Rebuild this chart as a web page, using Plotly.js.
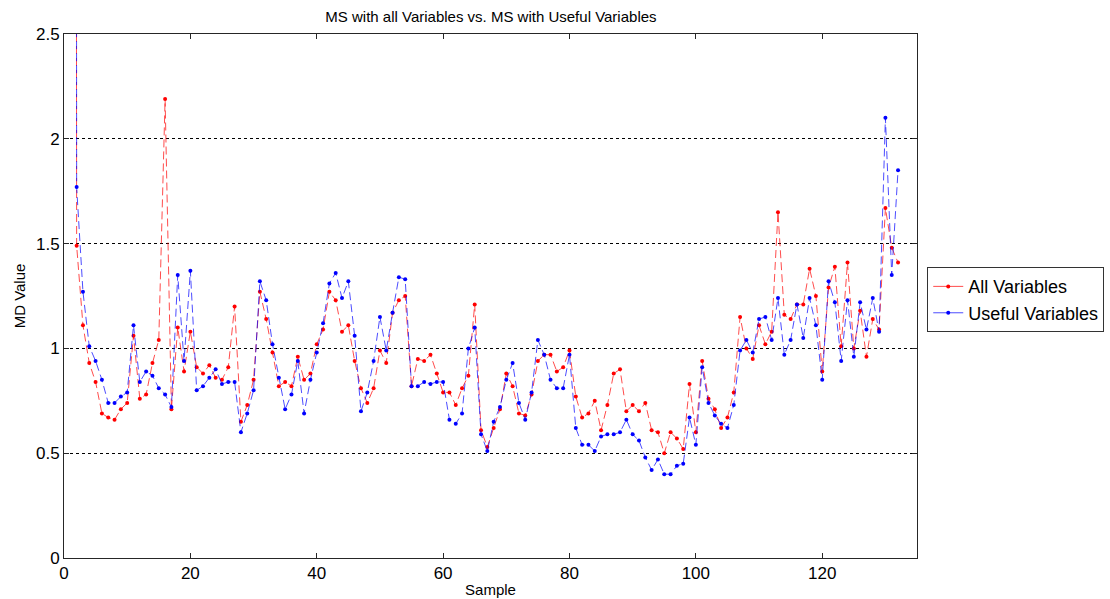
<!DOCTYPE html>
<html>
<head>
<meta charset="utf-8">
<script src="https://cdn.plot.ly/plotly-3.0.1.min.js"></script>
<style>
html,body{margin:0;padding:0;background:#fff;}
#chart{width:1110px;height:599px;}
</style>
</head>
<body>
<div id="chart"></div>
<script>
// Sample numbers 1..132 (sample 1 is off-scale, above 2.5)
const samples = Array.from({length: 132}, (_, i) => i + 1);

const allVariables = [
  40, 1.49, 1.11, 0.93, 0.84, 0.69, 0.67, 0.66, 0.71, 0.74,
  1.06, 0.76, 0.78, 0.93, 1.04, 2.19, 0.71, 1.10, 0.89, 1.08,
  0.91, 0.88, 0.92, 0.86, 0.85, 0.91, 1.20, 0.65, 0.73, 0.85,
  1.27, 1.14, 0.98, 0.82, 0.84, 0.82, 0.96, 0.85, 0.88, 1.02,
  1.09, 1.27, 1.23, 1.08, 1.11, 0.94, 0.81, 0.74, 0.81, 0.99,
  0.93, 1.17, 1.23, 1.25, 0.82, 0.95, 0.94, 0.97, 0.88, 0.79,
  0.79, 0.73, 0.81, 0.87, 1.21, 0.61, 0.53, 0.62, 0.71, 0.88,
  0.82, 0.69, 0.68, 0.78, 0.94, 0.97, 0.97, 0.89, 0.91, 0.99,
  0.77, 0.67, 0.69, 0.75, 0.61, 0.73, 0.88, 0.90, 0.70, 0.73,
  0.70, 0.74, 0.61, 0.60, 0.50, 0.60, 0.57, 0.52, 0.83, 0.60,
  0.94, 0.76, 0.71, 0.62, 0.67, 0.79, 1.15, 1.00, 0.95, 1.11,
  1.02, 1.08, 1.65, 1.16, 1.14, 1.21, 1.21, 1.38, 1.25, 0.89,
  1.29, 1.39, 1.01, 1.41, 1.00, 1.18, 0.96, 1.14, 1.09, 1.67,
  1.48, 1.41
];

const usefulVariables = [
  60, 1.77, 1.27, 1.01, 0.94, 0.85, 0.74, 0.74, 0.77, 0.79,
  1.11, 0.84, 0.89, 0.87, 0.81, 0.78, 0.72, 1.35, 0.94, 1.37,
  0.80, 0.82, 0.86, 0.90, 0.83, 0.84, 0.84, 0.60, 0.69, 0.80,
  1.32, 1.23, 1.02, 0.86, 0.71, 0.78, 0.94, 0.69, 0.85, 0.98,
  1.12, 1.31, 1.36, 1.24, 1.32, 1.06, 0.70, 0.79, 0.94, 1.15,
  0.99, 1.17, 1.34, 1.33, 0.82, 0.82, 0.84, 0.83, 0.84, 0.84,
  0.66, 0.64, 0.69, 1.00, 1.10, 0.59, 0.51, 0.65, 0.72, 0.85,
  0.93, 0.74, 0.66, 0.79, 1.04, 0.97, 0.85, 0.81, 0.81, 0.97,
  0.62, 0.54, 0.54, 0.51, 0.58, 0.59, 0.59, 0.60, 0.66, 0.59,
  0.56, 0.48, 0.42, 0.47, 0.40, 0.40, 0.44, 0.45, 0.67, 0.54,
  0.91, 0.74, 0.68, 0.64, 0.62, 0.73, 0.99, 1.04, 0.98, 1.14,
  1.15, 1.04, 1.24, 0.97, 1.04, 1.21, 1.05, 1.24, 1.11, 0.85,
  1.32, 1.22, 0.94, 1.23, 0.96, 1.22, 1.09, 1.24, 1.08, 2.10,
  1.35, 1.85
];

const seriesNames = ['All Variables', 'Useful Variables'];
const yTicks = [0, 0.5, 1, 1.5, 2, 2.5];
const yTickText = ['0', '0.5', '1', '1.5', '2', '2.5'];
const xTicks = [0, 20, 40, 60, 80, 100, 120];

const FONT = 'Liberation Sans, Arial, sans-serif';
const RED_LINE = 'rgba(255,0,0,0.7)';
const BLUE_LINE = 'rgba(0,0,255,0.7)';

const traces = [
  {
    x: samples, y: allVariables, name: seriesNames[0], showlegend: false,
    type: 'scatter', mode: 'lines+markers',
    line: {color: RED_LINE, width: 1, dash: '8px,4px'},
    marker: {color: '#ff0000', size: 4, symbol: 'circle'}
  },
  {
    x: samples, y: usefulVariables, name: seriesNames[1], showlegend: false,
    type: 'scatter', mode: 'lines+markers',
    line: {color: BLUE_LINE, width: 1, dash: '8px,4px'},
    marker: {color: '#0000ff', size: 4, symbol: 'circle'}
  },
  // legend entries (solid line samples, as in the reference legend)
  {
    x: [null], y: [null], name: seriesNames[0], showlegend: true,
    type: 'scatter', mode: 'lines+markers',
    line: {color: RED_LINE, width: 1},
    marker: {color: '#ff0000', size: 4}
  },
  {
    x: [null], y: [null], name: seriesNames[1], showlegend: true,
    type: 'scatter', mode: 'lines+markers',
    line: {color: BLUE_LINE, width: 1},
    marker: {color: '#0000ff', size: 4}
  }
];

const layout = {
  width: 1110, height: 599,
  margin: {l: 64, r: 193, t: 34, b: 41, pad: 0, autoexpand: false},
  paper_bgcolor: '#ffffff',
  plot_bgcolor: '#ffffff',
  font: {family: FONT, color: '#000000'},
  title: {
    text: 'MS with all Variables vs. MS with Useful Variables',
    font: {family: FONT, size: 15, color: '#000'},
    x: 0.4423, xanchor: 'center', y: 0.972, yanchor: 'middle'
  },
  showlegend: true,
  legend: {
    x: 1.012, xanchor: 'left', y: 0.555, yanchor: 'top',
    bgcolor: '#ffffff', bordercolor: '#333333', borderwidth: 1,
    font: {family: FONT, size: 18, color: '#000'},
    tracegroupgap: 0, itemwidth: 30
  },
  xaxis: {
    range: [0, 135],
    tickvals: xTicks,
    ticks: 'inside', ticklen: 5, tickcolor: '#262626',
    showline: true, linecolor: '#262626', linewidth: 1, mirror: 'ticks',
    showgrid: false, zeroline: false,
    tickfont: {family: FONT, size: 17, color: '#000'},
    title: {text: 'Sample', font: {family: FONT, size: 15, color: '#000'}, standoff: 2}
  },
  yaxis: {
    range: [0, 2.5],
    tickvals: yTicks, ticktext: yTickText,
    ticks: 'inside', ticklen: 5, tickcolor: '#262626',
    showline: true, linecolor: '#262626', linewidth: 1, mirror: 'ticks',
    showgrid: true, gridcolor: '#000000', gridwidth: 1, griddash: 'dot',
    zeroline: false,
    tickfont: {family: FONT, size: 17, color: '#000'},
    title: {text: 'MD Value', font: {family: FONT, size: 15, color: '#000'}, standoff: 6}
  }
};

Plotly.newPlot('chart', traces, layout, {displayModeBar: false, staticPlot: true});
</script>
</body>
</html>
